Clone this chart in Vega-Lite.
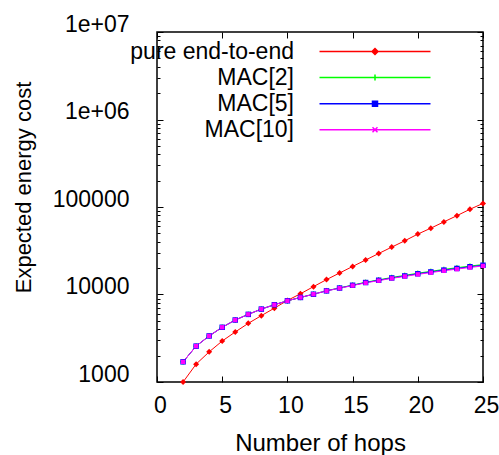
{
  "$schema": "https://vega.github.io/schema/vega-lite/v6.json",
  "width": 326,
  "height": 350,
  "autosize": "none",
  "padding": {"left": 157, "top": 32, "right": 16, "bottom": 73},
  "config": {
    "font": "Liberation Sans",
    "view": {"stroke": "#000000", "strokeWidth": 1.5},
    "axis": {"domain": false, "grid": false, "tickColor": "#000000", "labelColor": "#000000", "titleColor": "#000000", "labelFontSize": 23, "titleFontSize": 23, "titleFontWeight": "normal", "tickWidth": 1}
  },
  "data": {"values": [
    {"series": "pure end-to-end", "hops": 2, "cost": 1000},
    {"series": "pure end-to-end", "hops": 3, "cost": 1600},
    {"series": "pure end-to-end", "hops": 4, "cost": 2210},
    {"series": "pure end-to-end", "hops": 5, "cost": 2940},
    {"series": "pure end-to-end", "hops": 6, "cost": 3730},
    {"series": "pure end-to-end", "hops": 7, "cost": 4680},
    {"series": "pure end-to-end", "hops": 8, "cost": 5730},
    {"series": "pure end-to-end", "hops": 9, "cost": 6980},
    {"series": "pure end-to-end", "hops": 10, "cost": 8550},
    {"series": "pure end-to-end", "hops": 11, "cost": 10190},
    {"series": "pure end-to-end", "hops": 12, "cost": 12300},
    {"series": "pure end-to-end", "hops": 13, "cost": 14800},
    {"series": "pure end-to-end", "hops": 14, "cost": 17600},
    {"series": "pure end-to-end", "hops": 15, "cost": 20900},
    {"series": "pure end-to-end", "hops": 16, "cost": 24800},
    {"series": "pure end-to-end", "hops": 17, "cost": 29400},
    {"series": "pure end-to-end", "hops": 18, "cost": 34800},
    {"series": "pure end-to-end", "hops": 19, "cost": 41100},
    {"series": "pure end-to-end", "hops": 20, "cost": 49000},
    {"series": "pure end-to-end", "hops": 21, "cost": 57300},
    {"series": "pure end-to-end", "hops": 22, "cost": 67600},
    {"series": "pure end-to-end", "hops": 23, "cost": 79600},
    {"series": "pure end-to-end", "hops": 24, "cost": 94200},
    {"series": "pure end-to-end", "hops": 25, "cost": 110000},
    {"series": "MAC[2]", "hops": 2, "cost": 1700},
    {"series": "MAC[2]", "hops": 3, "cost": 2570},
    {"series": "MAC[2]", "hops": 4, "cost": 3360},
    {"series": "MAC[2]", "hops": 5, "cost": 4220},
    {"series": "MAC[2]", "hops": 6, "cost": 5110},
    {"series": "MAC[2]", "hops": 7, "cost": 5930},
    {"series": "MAC[2]", "hops": 8, "cost": 6810},
    {"series": "MAC[2]", "hops": 9, "cost": 7640},
    {"series": "MAC[2]", "hops": 10, "cost": 8470},
    {"series": "MAC[2]", "hops": 11, "cost": 9250},
    {"series": "MAC[2]", "hops": 12, "cost": 10080},
    {"series": "MAC[2]", "hops": 13, "cost": 11050},
    {"series": "MAC[2]", "hops": 14, "cost": 11900},
    {"series": "MAC[2]", "hops": 15, "cost": 12800},
    {"series": "MAC[2]", "hops": 16, "cost": 13800},
    {"series": "MAC[2]", "hops": 17, "cost": 14700},
    {"series": "MAC[2]", "hops": 18, "cost": 15650},
    {"series": "MAC[2]", "hops": 19, "cost": 16550},
    {"series": "MAC[2]", "hops": 20, "cost": 17500},
    {"series": "MAC[2]", "hops": 21, "cost": 18400},
    {"series": "MAC[2]", "hops": 22, "cost": 19350},
    {"series": "MAC[2]", "hops": 23, "cost": 20250},
    {"series": "MAC[2]", "hops": 24, "cost": 21150},
    {"series": "MAC[2]", "hops": 25, "cost": 22000},
    {"series": "MAC[5]", "hops": 2, "cost": 1700},
    {"series": "MAC[5]", "hops": 3, "cost": 2570},
    {"series": "MAC[5]", "hops": 4, "cost": 3360},
    {"series": "MAC[5]", "hops": 5, "cost": 4220},
    {"series": "MAC[5]", "hops": 6, "cost": 5110},
    {"series": "MAC[5]", "hops": 7, "cost": 5930},
    {"series": "MAC[5]", "hops": 8, "cost": 6810},
    {"series": "MAC[5]", "hops": 9, "cost": 7640},
    {"series": "MAC[5]", "hops": 10, "cost": 8470},
    {"series": "MAC[5]", "hops": 11, "cost": 9250},
    {"series": "MAC[5]", "hops": 12, "cost": 10080},
    {"series": "MAC[5]", "hops": 13, "cost": 11000},
    {"series": "MAC[5]", "hops": 14, "cost": 11850},
    {"series": "MAC[5]", "hops": 15, "cost": 12750},
    {"series": "MAC[5]", "hops": 16, "cost": 13700},
    {"series": "MAC[5]", "hops": 17, "cost": 14550},
    {"series": "MAC[5]", "hops": 18, "cost": 15450},
    {"series": "MAC[5]", "hops": 19, "cost": 16300},
    {"series": "MAC[5]", "hops": 20, "cost": 17250},
    {"series": "MAC[5]", "hops": 21, "cost": 18100},
    {"series": "MAC[5]", "hops": 22, "cost": 19000},
    {"series": "MAC[5]", "hops": 23, "cost": 19850},
    {"series": "MAC[5]", "hops": 24, "cost": 20750},
    {"series": "MAC[5]", "hops": 25, "cost": 21600},
    {"series": "MAC[10]", "hops": 2, "cost": 1700},
    {"series": "MAC[10]", "hops": 3, "cost": 2570},
    {"series": "MAC[10]", "hops": 4, "cost": 3360},
    {"series": "MAC[10]", "hops": 5, "cost": 4220},
    {"series": "MAC[10]", "hops": 6, "cost": 5110},
    {"series": "MAC[10]", "hops": 7, "cost": 5930},
    {"series": "MAC[10]", "hops": 8, "cost": 6810},
    {"series": "MAC[10]", "hops": 9, "cost": 7640},
    {"series": "MAC[10]", "hops": 10, "cost": 8470},
    {"series": "MAC[10]", "hops": 11, "cost": 9250},
    {"series": "MAC[10]", "hops": 12, "cost": 10080},
    {"series": "MAC[10]", "hops": 13, "cost": 11000},
    {"series": "MAC[10]", "hops": 14, "cost": 11800},
    {"series": "MAC[10]", "hops": 15, "cost": 12650},
    {"series": "MAC[10]", "hops": 16, "cost": 13600},
    {"series": "MAC[10]", "hops": 17, "cost": 14400},
    {"series": "MAC[10]", "hops": 18, "cost": 15300},
    {"series": "MAC[10]", "hops": 19, "cost": 16100},
    {"series": "MAC[10]", "hops": 20, "cost": 17000},
    {"series": "MAC[10]", "hops": 21, "cost": 17800},
    {"series": "MAC[10]", "hops": 22, "cost": 18700},
    {"series": "MAC[10]", "hops": 23, "cost": 19500},
    {"series": "MAC[10]", "hops": 24, "cost": 20400},
    {"series": "MAC[10]", "hops": 25, "cost": 21200}
  ]},
  "layer": [
    {
      "mark": {"type": "line", "strokeWidth": 1},
      "encoding": {
        "x": {"field": "hops", "type": "quantitative", "scale": {"domain": [0, 25], "nice": false},
          "axis": {"orient": "bottom", "values": [0, 5, 10, 15, 20, 25], "tickSize": -6, "labelPadding": 18, "labelOffset": 3, "labelFlush": false, "labelOverlap": false, "title": "Number of hops", "titlePadding": 14, "titleFontSize": 24}},
        "y": {"field": "cost", "type": "quantitative", "scale": {"type": "log", "domain": [1000, 10000000], "nice": false},
          "axis": {"orient": "left",
            "values": [1000, 2000, 3000, 4000, 5000, 6000, 7000, 8000, 9000, 10000, 20000, 30000, 40000, 50000, 60000, 70000, 80000, 90000, 100000, 200000, 300000, 400000, 500000, 600000, 700000, 800000, 900000, 1000000, 2000000, 3000000, 4000000, 5000000, 6000000, 7000000, 8000000, 9000000, 10000000],
            "labelExpr": "datum.value == 1000 ? '1000' : datum.value == 10000 ? '10000' : datum.value == 100000 ? '100000' : datum.value == 1000000 ? '1e+06' : datum.value == 10000000 ? '1e+07' : ''",
            "tickSize": {"condition": {"test": "indexof([1000, 10000, 100000, 1000000, 10000000], datum.value) >= 0", "value": -6}, "value": -3},
            "labelPadding": 34, "labelOffset": -8, "labelOverlap": false, "labelFlush": false,
            "title": "Expected energy cost", "titleFontSize": 22, "titleAngle": -90, "titleAlign": "center", "titleBaseline": "alphabetic", "titleX": -127, "titleY": 155}},
        "color": {"field": "series", "type": "nominal",
          "scale": {"domain": ["pure end-to-end", "MAC[2]", "MAC[5]", "MAC[10]"], "range": ["#ff0000", "#00ff00", "#0000ff", "#ff00ff"]},
          "legend": {"orient": "none", "legendX": 206.5, "legendY": 8, "title": null, "labelFontSize": 23, "labelColor": "#000000", "labelAlign": "right", "labelOffset": -92.5, "labelLimit": 0, "symbolSize": 100, "symbolStrokeWidth": 1.5, "rowPadding": 2.1, "padding": 0,
            "symbolType": "M-11.1,0L11.1,0M-0.5,-0.5L0.5,-0.5L0.5,0.5L-0.5,0.5Z",
            "encode": {"symbols": {"update": {
              "shape": {"signal": "datum.value == 'pure end-to-end' ? 'M-11.1,0L11.1,0M-0.6,0L0,-0.6L0.6,0L0,0.6Z' : datum.value == 'MAC[2]' ? 'M-11.1,0L11.1,0M0,-0.6L0,0.6' : datum.value == 'MAC[5]' ? 'M-11.1,0L11.1,0M-0.5,-0.5L0.5,-0.5L0.5,0.5L-0.5,0.5Z' : 'M-11.1,0L11.1,0M-0.5,-0.5L0.5,0.5M-0.5,0.5L0.5,-0.5'"}}}}}}
      }
    },
    {
      "transform": [{"filter": "datum.series == 'pure end-to-end'"}],
      "mark": {"type": "point", "filled": true, "opacity": 1, "size": 36, "shape": "diamond"},
      "encoding": {
        "x": {"field": "hops", "type": "quantitative",
          "axis": {"orient": "top", "values": [0, 5, 10, 15, 20, 25], "tickSize": -6, "labels": false, "title": null}},
        "y": {"field": "cost", "type": "quantitative",
          "axis": {"orient": "right",
            "values": [1000, 2000, 3000, 4000, 5000, 6000, 7000, 8000, 9000, 10000, 20000, 30000, 40000, 50000, 60000, 70000, 80000, 90000, 100000, 200000, 300000, 400000, 500000, 600000, 700000, 800000, 900000, 1000000, 2000000, 3000000, 4000000, 5000000, 6000000, 7000000, 8000000, 9000000, 10000000],
            "tickSize": {"condition": {"test": "indexof([1000, 10000, 100000, 1000000, 10000000], datum.value) >= 0", "value": -6}, "value": -3},
            "labels": false, "title": null}},
        "color": {"field": "series", "type": "nominal", "legend": null}
      }
    },
    {
      "transform": [{"filter": "datum.series == 'MAC[2]'"}],
      "mark": {"type": "point", "filled": false, "opacity": 1, "size": 30, "strokeWidth": 1, "shape": "M-1,0L1,0M0,-1L0,1"},
      "encoding": {
        "x": {"field": "hops", "type": "quantitative", "axis": null},
        "y": {"field": "cost", "type": "quantitative", "axis": null},
        "color": {"field": "series", "type": "nominal", "legend": null}
      }
    },
    {
      "transform": [{"filter": "datum.series == 'MAC[5]'"}],
      "mark": {"type": "point", "filled": true, "opacity": 1, "size": 30, "shape": "square"},
      "encoding": {
        "x": {"field": "hops", "type": "quantitative", "axis": null},
        "y": {"field": "cost", "type": "quantitative", "axis": null},
        "color": {"field": "series", "type": "nominal", "legend": null}
      }
    },
    {
      "transform": [{"filter": "datum.series == 'MAC[10]'"}],
      "mark": {"type": "point", "filled": true, "opacity": 1, "size": 30, "shape": "M-0.8,-0.8L0.8,-0.8L0.8,0.8L-0.8,0.8Z"},
      "encoding": {
        "x": {"field": "hops", "type": "quantitative", "axis": null},
        "y": {"field": "cost", "type": "quantitative", "axis": null},
        "color": {"field": "series", "type": "nominal", "legend": null}
      }
    }
  ],
  "resolve": {"axis": {"x": "independent", "y": "independent"}}
}
